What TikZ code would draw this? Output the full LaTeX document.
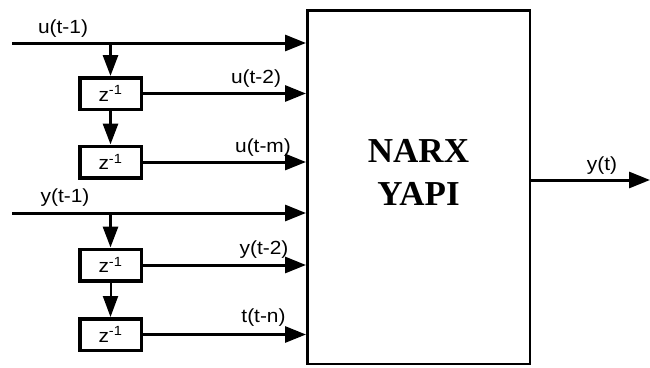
\documentclass[tikz,border=0pt]{standalone}
\usepackage{fontspec}
\setmainfont{Liberation Serif}
\newfontfamily\lblfont[FakeStretch=1.1]{Liberation Sans}
\usetikzlibrary{arrows.meta,positioning,calc}

\begin{document}
\begin{tikzpicture}[x=1pt,y=-1pt,
    sig/.style={line width=3pt,-{Triangle[length=21pt,width=16pt]}},
    vsig/.style={line width=3pt,-{Triangle[length=21pt,width=15pt]}},
    delaybox/.style={draw,line width=3.5pt,minimum width=61.5pt,minimum height=31.5pt,
                     inner sep=0pt,font=\lblfont\fontsize{19}{21}\selectfont},
    mainbox/.style={draw,line width=2.5pt,minimum width=222.5pt,minimum height=353.5pt,inner sep=0pt},
    lbl/.style={inner sep=0pt,anchor=south,font=\lblfont\fontsize{19}{21}\selectfont}]
  \useasboundingbox (0,0) rectangle (650,367);

  %% NARX block
  \node[mainbox] (narx) at (418.5,187) {};
  \node[font=\bfseries\fontsize{35}{43}\selectfont,align=center,inner sep=0pt]
        (title) at ([yshift=15pt]narx.center) {NARX\\YAPI};

  %% Delay blocks
  \node[delaybox] (d1) at (110.5,93.5) {z\textsuperscript{-1}};
  \node[delaybox] (d2) at (110.5,162) {z\textsuperscript{-1}};
  \node[delaybox] (d3) at (110.5,265) {z\textsuperscript{-1}};
  \node[delaybox] (d4) at (110.5,334.5) {z\textsuperscript{-1}};

  %% Input u(t-1)
  \coordinate (u1) at (12,43);
  \draw[sig] (u1) -- (u1 -| narx.west);
  \draw[vsig] (u1 -| d1.north) -- (d1.north);
  \draw[vsig] (d1.south) -- (d2.north);
  \draw[sig] (d1.east) -- (d1.east -| narx.west);
  \draw[sig] (d2.east) -- (d2.east -| narx.west);

  %% Input y(t-1)
  \coordinate (y1) at (12,213);
  \draw[sig] (y1) -- (y1 -| narx.west);
  \draw[vsig] (y1 -| d3.north) -- (d3.north);
  \draw[vsig,line width=2pt] (d3.south) -- (d4.north);
  \draw[sig] (d3.east) -- (d3.east -| narx.west);
  \draw[sig] (d4.east) -- (d4.east -| narx.west);

  %% Output
  \coordinate (yout) at (650,180);
  \draw[sig] (narx.east |- yout) -- (yout);

  %% Signal labels
  \node[lbl] (lu1) at (63,38) {u(t-1)};
  \node[lbl] (lu2) at (256,88) {u(t-2)};
  \node[lbl] (lum) at (263,157) {u(t-m)};
  \node[lbl] (ly1) at (65,207) {y(t-1)};
  \node[lbl] (ly2) at (264,259) {y(t-2)};
  \node[lbl] (ltn) at (263.5,327) {t(t-n)};
  \node[lbl] (lyt) at (602,175) {y(t)};
\end{tikzpicture}
\end{document}
